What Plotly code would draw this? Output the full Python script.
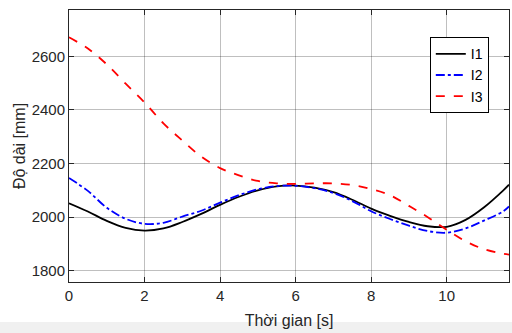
import plotly.graph_objects as go

t = [0, 0.5, 1, 1.5, 2, 2.5, 3, 3.5, 4, 4.5, 5, 5.5, 6, 6.5, 7, 7.5, 8, 8.5, 9, 9.5, 10, 10.5, 11, 11.5, 11.65]

l1 = [2052, 2021, 1986, 1960, 1950, 1958, 1982, 2012, 2046, 2076, 2100, 2115, 2118,
      2110, 2093, 2065, 2032, 2005, 1982, 1966, 1964, 1990, 2038, 2100, 2121]
l2 = [2146, 2098, 2035, 1994, 1975, 1979, 2002, 2024, 2054, 2082, 2104, 2116, 2117,
      2108, 2090, 2060, 2022, 1993, 1968, 1948, 1942, 1958, 1988, 2022, 2040]
l3 = [2671, 2629, 2570, 2498, 2428, 2350, 2286, 2226, 2183, 2156, 2135, 2126, 2124,
      2126, 2126, 2120, 2105, 2082, 2042, 2000, 1953, 1910, 1880, 1863, 1860]

names = ["I1", "I2", "I3"]
x_ticks = [0, 2, 4, 6, 8, 10]
y_ticks = [1800, 2000, 2200, 2400, 2600]

fig = go.Figure()
fig.add_trace(go.Scatter(x=t, y=l1, name=names[0], mode="lines",
                         line=dict(color="black", width=1.8, shape="spline")))
fig.add_trace(go.Scatter(x=t, y=l2, name=names[1], mode="lines",
                         line=dict(color="blue", width=1.8, dash="dashdot", shape="spline")))
fig.add_trace(go.Scatter(x=t, y=l3, name=names[2], mode="lines",
                         line=dict(color="red", width=1.8, dash="dash", shape="spline")))

axis_common = dict(
    showline=True, mirror="ticks", linecolor="#262626", linewidth=1,
    ticks="inside", ticklen=5, tickcolor="#262626",
    showgrid=True, gridcolor="rgba(0,0,0,0.25)", gridwidth=1,
    zeroline=False,
    tickfont=dict(family="Liberation Sans, Arial", size=15, color="#262626"),
)

fig.update_xaxes(range=[0, 11.65], tickvals=x_ticks,
                 title=dict(text="Thời gian [s]", standoff=11,
                            font=dict(family="Liberation Sans, Arial", size=16, color="#262626")),
                 **axis_common)
fig.update_yaxes(range=[1758, 2773], tickvals=y_ticks,
                 title=dict(text="Độ dài [mm]", standoff=2,
                            font=dict(family="Liberation Sans, Arial", size=16, color="#262626")),
                 **axis_common)

fig.add_shape(type="rect", xref="paper", yref="paper", x0=-0.2, x1=1.1, y0=-0.2, y1=-0.147,
              fillcolor="#f0f0f0", line=dict(width=0), layer="below")

fig.update_layout(
    width=512, height=333,
    margin=dict(l=69, r=3, t=10, b=51),
    paper_bgcolor="white", plot_bgcolor="white",
    legend=dict(x=0.82, y=0.9, xanchor="left", yanchor="top",
                bgcolor="white", bordercolor="black", borderwidth=1,
                font=dict(family="Liberation Sans, Arial", size=14, color="black"),
                itemwidth=30, tracegroupgap=0),
)

fig.write_html("out.html")
